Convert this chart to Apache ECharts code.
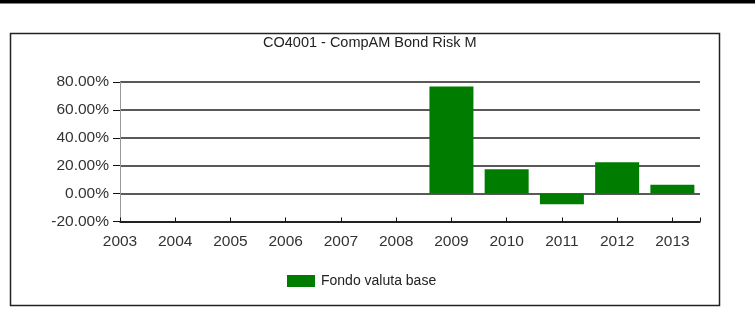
<!DOCTYPE html>
<html>
<head>
<meta charset="utf-8">
<script src="https://cdn.jsdelivr.net/npm/echarts@6/dist/echarts.min.js"></script>
<style>
html,body{margin:0;padding:0;background:#fff;}
#chart{width:755px;height:332px;}
</style>
</head>
<body>
<div id="chart"></div>
<script>
const chartTitle = 'CO4001 - CompAM Bond Risk M';
const seriesName = 'Fondo valuta base';
const years = [2003, 2004, 2005, 2006, 2007, 2008, 2009, 2010, 2011, 2012, 2013];
const fundValues = [null, null, null, null, null, null, 76.8, 17.5, -7.6, 22.5, 6.3];
const yTicks = [-20, 0, 20, 40, 60, 80];

const FONT = '"Liberation Sans", Arial, sans-serif';
const chart = echarts.init(document.getElementById('chart'), null, {renderer: 'canvas'});
chart.setOption({
  backgroundColor: '#fff',
  animation: false,
  title: {
    text: chartTitle,
    left: 263, top: 35, padding: 0,
    textStyle: {fontFamily: FONT, fontSize: 14.5, fontWeight: 'normal', color: '#222'}
  },
  legend: {
    left: 287, top: 274, padding: 0,
    itemWidth: 28, itemHeight: 12, itemGap: 6,
    icon: 'rect',
    textStyle: {fontFamily: FONT, fontSize: 14, color: '#222', padding: [0, 0, 0, 1]},
    data: [seriesName]
  },
  grid: {left: 120, right: 55, top: 82, bottom: 110.5},
  xAxis: {
    type: 'value',
    min: years[0], max: years[years.length - 1] + 0.5, interval: 1,
    splitLine: {show: false},
    axisLine: {show: true, onZero: false, lineStyle: {color: '#111', width: 1.5}},
    axisTick: {show: true, inside: true, length: 4, lineStyle: {color: '#111'}},
    axisLabel: {
      margin: 12, fontFamily: FONT, fontSize: 15.5, color: '#333',
      formatter: v => Number.isInteger(v) ? String(v) : ''
    }
  },
  yAxis: {
    type: 'value',
    min: yTicks[0], max: yTicks[yTicks.length - 1], interval: 20,
    axisLine: {show: true, onZero: false, lineStyle: {color: '#999', width: 1}},
    axisTick: {show: true, length: 7, lineStyle: {color: '#111'}},
    splitLine: {show: true, lineStyle: {color: '#222', width: 1.5}},
    axisLabel: {
      margin: 11, fontFamily: FONT, fontSize: 15.5, color: '#333',
      formatter: v => v.toFixed(2) + '%'
    }
  },
  graphic: [
    {type: 'rect', shape: {x: 0, y: 0, width: 755, height: 3.5}, style: {fill: '#000'}, silent: true},
    {type: 'rect', shape: {x: 10.5, y: 33.5, width: 709, height: 272}, style: {fill: 'none', stroke: '#222', lineWidth: 1.5}, silent: true}
  ],
  series: [{
    name: seriesName,
    type: 'bar',
    barWidth: 44,
    itemStyle: {color: '#007d00'},
    data: years.map((y, i) => [y, fundValues[i]])
  }]
});
</script>
</body>
</html>
